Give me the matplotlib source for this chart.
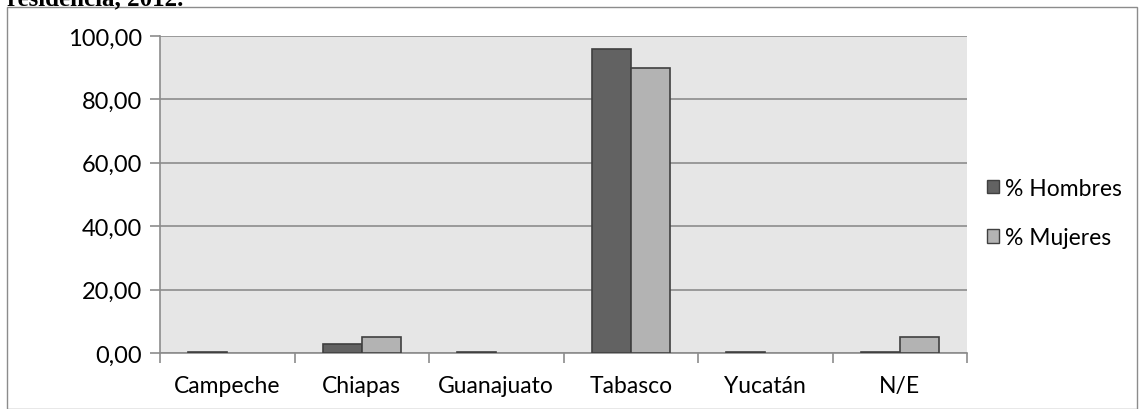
import matplotlib
matplotlib.use("Agg")
import matplotlib.pyplot as plt
import numpy as np
from matplotlib.patches import Rectangle, Patch

categories = ["Campeche", "Chiapas", "Guanajuato", "Tabasco", "Yucatán", "N/E"]
hombres = [0.33, 2.7, 0.33, 95.9, 0.33, 0.33]
mujeres = [0.0, 5.0, 0.0, 90.0, 0.0, 5.0]
yticks = [0, 20, 40, 60, 80, 100]
ytick_labels = ["0,00", "20,00", "40,00", "60,00", "80,00", "100,00"]
series_names = ["% Hombres", "% Mujeres"]

plt.rcParams['font.family'] = ['Lato', 'DejaVu Sans']

W, H = 1141, 410
fig = plt.figure(figsize=(W/100, H/100), dpi=100)
ax = fig.add_axes([160/W, 1-354/H, (967-160)/W, (354-37)/H])

x = np.arange(len(categories))
bw = 0.29
lw_h = [1.2 if v > 0 else 0 for v in hombres]
lw_m = [1.2 if v > 0 else 0 for v in mujeres]
ax.bar(x - bw/2, hombres, bw, color="#626262", edgecolor="#404040", linewidth=lw_h,
       label=series_names[0], zorder=3)
ax.bar(x + bw/2, mujeres, bw, color="#b3b3b3", edgecolor="#404040", linewidth=lw_m,
       label=series_names[1], zorder=3)

ax.set_xlim(-0.5, len(categories) - 0.5)
ax.set_ylim(0, 100)
ax.set_facecolor("#e6e6e6")
ax.set_yticks(yticks)
ax.set_yticklabels(ytick_labels, fontsize=17)
ax.yaxis.grid(True, color="#8c8c8c", linewidth=1.2, zorder=0)
ax.set_axisbelow(True)
ax.set_xticks(x)
ax.set_xticklabels(categories, fontsize=16.5)
ax.set_xticks(np.arange(-0.5, len(categories)), minor=True)
ax.tick_params(axis='x', which='major', length=0, pad=16)
ax.tick_params(axis='x', which='minor', length=7, color="#8c8c8c", width=1.2)
ax.tick_params(axis='y', length=7, color="#8c8c8c", width=1.2, pad=6)
for s in ["top", "right"]:
    ax.spines[s].set_visible(False)
for s in ["left", "bottom"]:
    ax.spines[s].set_color("#8c8c8c")
    ax.spines[s].set_linewidth(1.2)

handles = [Patch(facecolor="#626262", edgecolor="#404040", linewidth=1.0),
           Patch(facecolor="#b3b3b3", edgecolor="#404040", linewidth=1.0)]
leg = fig.legend(handles, series_names, loc="center left",
                 bbox_to_anchor=(966/W, 1-214/H), frameon=False,
                 fontsize=16.5, handlelength=0.55, handleheight=0.55, handletextpad=0.25,
                 labelspacing=1.25)

# outer chart border
fig.patches.append(Rectangle((7/W, 0), (1137-7)/W, 1-8/H, transform=fig.transFigure,
                             fill=False, edgecolor="#8c8c8c", linewidth=1.0))
# caption at top (partly cut off, as in the reference)
fig.text(183/W, 1-5/H, "residencia, 2012.", fontsize=18, family="Liberation Serif",
         fontweight="bold", va="baseline", ha="right")

fig.savefig("out.png", dpi=100)
